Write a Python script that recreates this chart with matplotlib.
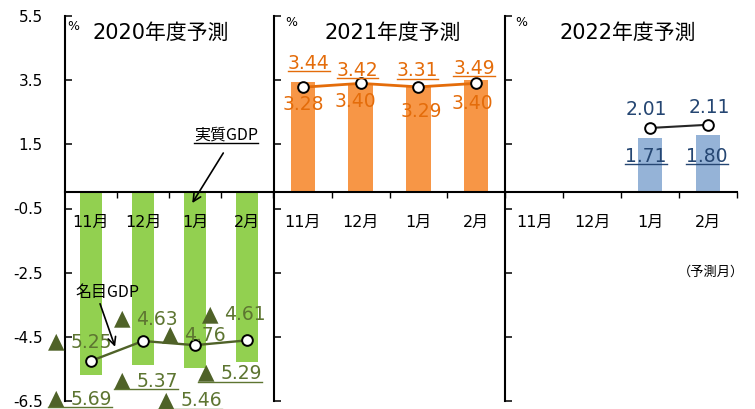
import matplotlib
matplotlib.use("Agg")
import matplotlib.pyplot as plt
import numpy as np
from matplotlib.lines import Line2D
from matplotlib.transforms import IdentityTransform

plt.rcParams["font.family"] = ["DejaVu Sans", "Noto Sans CJK JP"]

# ---- data -------------------------------------------------------------
months = ["11月", "12月", "1月", "2月"]
panel_titles = ["2020年度予測", "2021年度予測", "2022年度予測"]
y_ticks = [5.5, 3.5, 1.5, -0.5, -2.5, -4.5, -6.5]

real_2020 = [-5.69, -5.37, -5.46, -5.29]
nominal_2020 = [-5.25, -4.63, -4.76, -4.61]
real_2021 = [3.44, 3.42, 3.31, 3.49]
nominal_2021 = [3.28, 3.40, 3.29, 3.40]
real_2022 = [np.nan, np.nan, 1.71, 1.80]
nominal_2022 = [np.nan, np.nan, 2.01, 2.11]

# ---- label placement (pixel offsets of the digit centre from each mark) --
real_off = [
    [(0, -23), (14, -15), (6, -32), (-6, -10)],
    [(6, 20), (-3, 14), (-1, 17), (-2, 13.5)],
    [None, None, (-4, -17.5), (-1, -20)],
]
nominal_off = [
    [(0, 20), (14, 23), (10, 11), (-2, 27)],
    [(0, -16), (-5, -17), (3, -23), (-4, -19)],
    [None, None, (-4, 20), (1, 19)],
]

bar_colors = ["#92d050", "#f79646", "#95b3d7"]
line_colors = ["#4f6228", "#e46c0a", "#262626"]
text_colors = ["#5d7531", "#e46c0a", "#254672"]
line_widths = [1.7, 2.0, 1.5]

W, H = 755, 409
fig = plt.figure(figsize=(W / 100, H / 100), dpi=100)


def px_axes(left, right, top=16, bottom=401):
    return fig.add_axes([left / W, 1 - bottom / H, (right - left) / W, (bottom - top) / H])


axes = [px_axes(65, 273), px_axes(274, 505), px_axes(505, 737)]
reals = [real_2020, real_2021, real_2022]
nominals = [nominal_2020, nominal_2021, nominal_2022]
x = np.arange(len(months))

underlines = []
LABEL_SIZE = 13.5


def value_label(ax, xi, v, off, color, underline):
    dx, dy = off
    half_cap = 0.506 * LABEL_SIZE
    arts = []
    t = ax.annotate(f"{abs(v):.2f}", (xi, v), xytext=(dx, dy - half_cap),
                    textcoords="offset pixels", ha="center", va="baseline",
                    color=color, fontsize=LABEL_SIZE, zorder=6)
    arts.append(t)
    if v < 0:
        tri = ax.annotate("▲", (xi, v), xytext=(dx - 35, dy + 1.5 - 8),
                          textcoords="offset pixels", ha="center", va="baseline",
                          color="#4f6228", fontsize=15.5, zorder=6)
        arts.append(tri)
    base_y = ax.transData.transform((xi, v))[1] + dy - half_cap
    if underline:
        underlines.append((arts, base_y - 2.5, color))


for k, ax in enumerate(axes):
    ax.set_xlim(-0.5, 3.5)
    ax.set_ylim(-6.5, 5.5)
    for side in ("top", "right"):
        ax.spines[side].set_visible(False)
    ax.spines["bottom"].set_position(("data", 0))
    ax.spines["bottom"].set_linewidth(1.5)
    ax.spines["left"].set_linewidth(1.5)
    ax.set_xticks([0.5, 1.5, 2.5, 3.5])
    ax.set_xticklabels([])
    ax.tick_params(axis="x", direction="out", length=4, width=1.0)
    ax.set_yticks(y_ticks)
    ax.tick_params(axis="y", direction="in", length=5, width=1.1, pad=16,
                   labelsize=11)
    if k == 0:
        ax.set_yticklabels([f"{v:.1f}" for v in y_ticks])
    else:
        ax.set_yticklabels([])
    ax.patch.set_alpha(0)

    ax.bar(x, reals[k], width=0.42, color=bar_colors[k], zorder=2)
    ax.plot(x, nominals[k], color=line_colors[k], lw=line_widths[k], marker="o",
            ms=7.7, mfc="white", mec="black", mew=1.4, zorder=4)

    for i, m in enumerate(months):
        ax.annotate(m, (i, 0), xytext=(0, -29.5), textcoords="offset pixels",
                    ha="center", va="center", fontsize=11.5, color="black")

    for i in range(len(months)):
        if not np.isnan(reals[k][i]):
            value_label(ax, i, reals[k][i], real_off[k][i], text_colors[k], True)
        if not np.isnan(nominals[k][i]):
            value_label(ax, i, nominals[k][i], nominal_off[k][i], text_colors[k], False)

# titles and unit marks
fig.text(161 / W, 1 - 33 / H, panel_titles[0], ha="center", va="center", fontsize=15)
fig.text(392.5 / W, 1 - 33 / H, panel_titles[1], ha="center", va="center", fontsize=15)
fig.text(627.5 / W, 1 - 33 / H, panel_titles[2], ha="center", va="center", fontsize=15)
fig.text(73 / W, 1 - 27 / H, "%", ha="center", va="center", fontsize=9)
fig.text(291 / W, 1 - 23 / H, "%", ha="center", va="center", fontsize=9)
fig.text(521 / W, 1 - 23 / H, "%", ha="center", va="center", fontsize=9)
fig.text(711 / W, 1 - 272 / H, "（予測月）", ha="center", va="center", fontsize=9.5,
         family=["Noto Sans CJK JP"])

# series call-outs in the first panel
ax1 = axes[0]
real_tag = ax1.text(2.60, 1.79, "実質GDP", ha="center", va="center", fontsize=11.5,
                    family=["Noto Sans CJK JP"], zorder=6)
ax1.text(0.32, -3.13, "名目GDP", ha="center", va="center", fontsize=11.5,
         family=["Noto Sans CJK JP"], zorder=6)
ax1.annotate("", xy=(1.947, -0.33), xytext=(2.544, 1.23),
             arrowprops=dict(arrowstyle="->", color="black", lw=1.2,
                             mutation_scale=14, shrinkA=0, shrinkB=0), zorder=6)
ax1.annotate("", xy=(0.463, -4.81), xytext=(0.174, -3.47),
             arrowprops=dict(arrowstyle="->", color="black", lw=1.2,
                             mutation_scale=14, shrinkA=0, shrinkB=0), zorder=6)

# underline the real-GDP figures
fig.canvas.draw()
renderer = fig.canvas.get_renderer()
for arts, y, color in underlines:
    boxes = [a.get_window_extent(renderer) for a in arts]
    x0 = min(b.x0 for b in boxes)
    x1 = max(b.x1 for b in boxes)
    fig.add_artist(Line2D([x0, x1], [y, y], transform=IdentityTransform(),
                          color=color, lw=1.0))
bb = real_tag.get_window_extent(renderer)
fig.add_artist(Line2D([bb.x0, bb.x1], [bb.y0 + 1, bb.y0 + 1],
                      transform=IdentityTransform(), color="black", lw=1.0))

fig.savefig("out.png", dpi=100)
